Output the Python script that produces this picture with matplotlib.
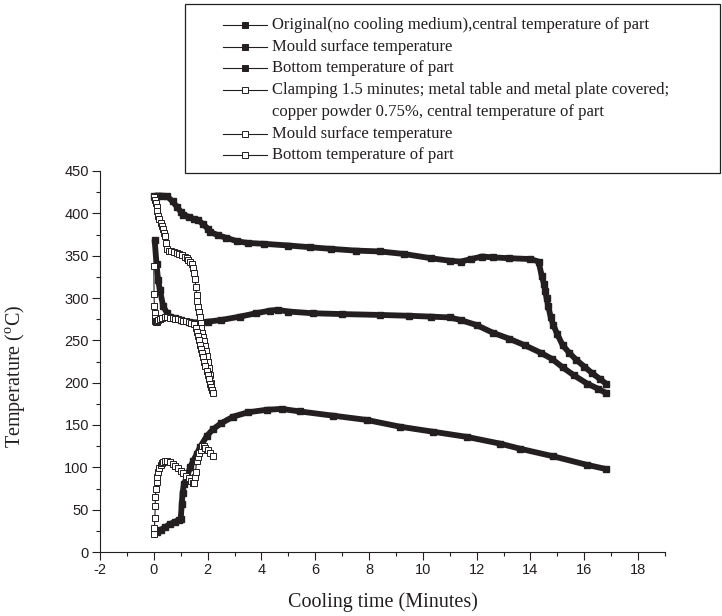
import matplotlib.pyplot as plt
from matplotlib.lines import Line2D
from matplotlib.patches import Rectangle
from matplotlib.ticker import MultipleLocator

plt.rcParams['mathtext.fontset'] = 'custom'
plt.rcParams['mathtext.rm'] = 'Liberation Serif'
plt.rcParams['axes.unicode_minus'] = False

INK = '#231f20'
W, H = 722, 616

# original (no cooling medium), filled squares
t_center = [0.0, 0.1, 0.3, 0.5, 0.7, 0.85, 1.0, 1.1, 1.3, 1.5, 1.65, 1.84, 2.0, 2.1, 2.4, 2.7, 3.1,
            3.5, 4.1, 5.0, 5.8, 6.6, 7.5, 8.4, 9.3, 10.3, 11.0, 11.4, 11.8, 12.2, 12.6, 13.2, 14.0,
            14.3, 14.42, 14.5, 14.55, 14.6, 14.66, 14.75, 14.85, 15.0, 15.2, 15.45, 15.7, 16.0,
            16.3, 16.6, 16.8]
T_center = [420, 421, 421, 420, 414, 408, 402, 398, 396, 393, 392, 387, 382, 378, 374, 371, 367,
            365, 364, 362, 360, 358, 356, 355, 352, 347, 344, 343, 346, 349, 348, 347, 346,
            343, 326, 317, 308, 300, 290, 278, 268, 257, 244, 235, 227, 219,
            211, 204, 199]

t_mould = [0.03, 0.1, 0.16, 0.23, 0.35, 0.5, 0.6, 0.8, 1.0, 1.3, 1.6, 2.0, 2.5, 3.2, 3.8, 4.3, 4.6,
           5.0, 5.9, 7.0, 8.4, 9.5, 10.3, 11.0, 11.4, 12.0, 12.6, 13.2, 13.8, 14.4, 14.8, 15.2,
           15.6, 16.1, 16.5, 16.8]
T_mould = [369, 340, 321, 309, 290, 282, 278, 276, 274, 272, 271, 272, 274, 278, 282, 285, 286,
           284, 282, 281, 280, 279, 278, 277, 274, 268, 259, 252, 244, 235, 228, 218,
           209, 199, 193, 188]

t_bottom = [0.12, 0.25, 0.4, 0.6, 0.8, 0.95, 1.0, 1.04, 1.07, 1.12, 1.22, 1.35, 1.47, 1.6, 1.72,
            1.97, 2.2, 2.5, 2.96, 3.5, 4.2, 4.75, 5.43, 6.67, 7.91, 9.15, 10.39, 11.63, 12.87,
            13.61, 14.85, 16.09, 16.81]
T_bottom = [24, 26, 29, 33, 36, 38, 39, 57, 70, 80, 88, 100, 108, 116, 124,
            137, 145, 152, 160, 165, 168, 169, 166, 161, 156, 148, 142, 136, 128,
            122, 113, 103, 98]

# clamping 1.5 min, copper powder 0.75%, open squares
t_center_c = [0.0, 0.02, 0.04, 0.07, 0.1, 0.13, 0.17, 0.21, 0.25, 0.29, 0.33, 0.37, 0.4, 0.44, 0.48,
              0.55, 0.65, 0.75, 0.85, 0.95, 1.05, 1.15, 1.22, 1.28, 1.35, 1.42, 1.47, 1.5, 1.53,
              1.56, 1.59, 1.62, 1.65, 1.68, 1.71, 1.74, 1.77, 1.8, 1.83, 1.86, 1.9, 1.94, 1.98,
              2.02, 2.06, 2.1, 2.14, 2.18]
T_center_c = [421, 419, 416, 412, 408, 403, 397, 393, 389, 385, 381, 377, 373, 365, 358,
              356, 355, 354, 353, 352, 351, 349, 347, 345, 343, 340, 336, 330, 322,
              313, 304, 296, 289, 283, 277, 271, 265, 259, 254, 249, 243, 237, 231,
              224, 217, 209, 200, 191]

t_mould_c = [0.0, 0.01, 0.02, 0.03, 0.04, 0.06, 0.08, 0.1, 0.13, 0.17, 0.22, 0.3, 0.4, 0.5, 0.6,
             0.7, 0.8, 0.9, 1.0, 1.1, 1.2, 1.3, 1.4, 1.5, 1.55, 1.6, 1.64, 1.68, 1.72, 1.76, 1.8,
             1.84, 1.88, 1.92, 1.96, 2.0, 2.04, 2.08, 2.12, 2.16, 2.2]
T_mould_c = [338, 305, 290, 282, 276, 273, 272, 272, 273, 274, 275, 276, 277, 277, 276,
             276, 275, 275, 274, 273, 273, 272, 271, 269, 265, 260, 255, 250, 245, 240, 235,
             230, 225, 220, 214, 209, 204, 199, 195, 191, 188]

t_bottom_c = [0.0, 0.02, 0.04, 0.05, 0.06, 0.08, 0.1, 0.13, 0.17, 0.21, 0.26, 0.31, 0.36, 0.42,
              0.5, 0.6, 0.7, 0.8, 0.9, 1.0, 1.1, 1.2, 1.3, 1.4, 1.47, 1.5, 1.52, 1.55, 1.59, 1.63,
              1.69, 1.74, 1.78, 1.85, 1.92, 2.0, 2.08, 2.19]
T_bottom_c = [21, 28, 40, 54, 65, 75, 83, 88, 94, 99, 103, 105, 106, 107,
              107, 106, 104, 102, 99, 96, 93, 90, 87, 84, 82, 81, 88, 95, 107, 112,
              117, 121, 125, 125, 123, 120, 117, 113]

labels = ['Original(no cooling medium),central temperature of part',
          'Mould surface temperature',
          'Bottom temperature of part',
          'Clamping 1.5 minutes; metal table and metal plate covered;\n'
          'copper powder 0.75%, central temperature of part',
          'Mould surface temperature',
          'Bottom temperature of part']
filled = [True, True, True, False, False, False]

fig = plt.figure(figsize=(W / 100, H / 100), dpi=100)
ax = fig.add_axes([100 / W, 1 - 552 / H, 565 / W, 381 / H])

for t, T in [(t_center, T_center), (t_mould, T_mould), (t_bottom, T_bottom)]:
    ax.plot(t, T, color=INK, lw=4.2, marker='s', ms=4.2, mfc=INK, mec=INK,
            solid_capstyle='butt', solid_joinstyle='round')
for t, T in [(t_center_c, T_center_c), (t_mould_c, T_mould_c), (t_bottom_c, T_bottom_c)]:
    ax.plot(t, T, color=INK, lw=0.8, marker='s', ms=4.2, mfc='white', mec=INK, mew=0.7)

ax.set_xlim(-2, 19)
ax.set_ylim(0, 450)
ax.xaxis.set_major_locator(MultipleLocator(2))
ax.xaxis.set_minor_locator(MultipleLocator(1))
ax.yaxis.set_major_locator(MultipleLocator(50))
ax.yaxis.set_minor_locator(MultipleLocator(25))
for s in ['top', 'right']:
    ax.spines[s].set_visible(False)
for s in ['left', 'bottom']:
    ax.spines[s].set_color(INK)
    ax.spines[s].set_linewidth(0.8)
ax.tick_params(which='major', direction='out', length=5.5, width=0.8, color=INK, pad=2.5,
               labelsize=10.5, labelcolor=INK)
ax.tick_params(which='minor', direction='out', length=3.2, width=0.8, color=INK)
for lab in ax.get_xticklabels() + ax.get_yticklabels():
    lab.set_family('Liberation Sans')

ax.set_xlabel('Cooling time (Minutes)', family='Liberation Serif', fontsize=14.5, color=INK)
ax.set_ylabel('Temperature ($^{\\rm o}$C)', family='Liberation Serif', fontsize=14.5, color=INK)
ax.xaxis.set_label_coords(0.5, -(592 - 552) / 381)
ax.yaxis.set_label_coords(-(100 - 27) / 565, 0.46)

# legend box drawn by hand to follow the original layout
fig.add_artist(Rectangle((185 / W, 1 - 173 / H), 535 / W, 169 / H, transform=fig.transFigure,
                         fill=False, ec=INK, lw=0.9))
row = 0
for lab, f in zip(labels, filled):
    y = 1 - (25 + 21.7 * row) / H
    fig.add_artist(Line2D([223 / W, 267 / W], [y, y], transform=fig.transFigure, color=INK, lw=0.8))
    fig.add_artist(Line2D([245 / W], [y], transform=fig.transFigure, marker='s', ms=3.8,
                          mfc=INK if f else 'white', mec=INK, mew=0.7))
    for line in lab.split('\n'):
        y = 1 - (25 + 21.7 * row) / H
        fig.text(272 / W, y, line, family='Liberation Serif', fontsize=12, color=INK, va='center')
        row += 1

fig.savefig('out.png', dpi=100)
